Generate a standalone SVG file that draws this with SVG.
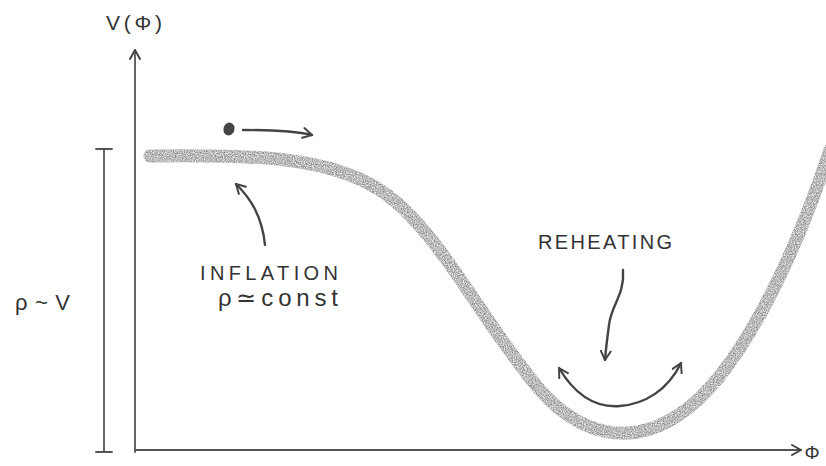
<svg xmlns="http://www.w3.org/2000/svg" width="826" height="466" viewBox="0 0 826 466">
<defs>
<filter id="pencil" x="-5%" y="-5%" width="110%" height="110%">
<feTurbulence type="fractalNoise" baseFrequency="0.9" numOctaves="2" seed="3" result="n"/>
<feColorMatrix in="n" type="matrix" values="0 0 0 0 0  0 0 0 0 0  0 0 0 0 0  0 0 0 -1.6 1.35" result="a"/>
<feComposite in="SourceGraphic" in2="a" operator="in"/>
</filter>
<marker id="head" viewBox="0 0 12 12" refX="10" refY="6" markerWidth="12" markerHeight="12" markerUnits="userSpaceOnUse" orient="auto">
<path d="M1,1 L10,6 L1,11" fill="none" stroke="#444" stroke-width="2" stroke-linecap="round" stroke-linejoin="round"/>
</marker>
<marker id="headS" viewBox="0 0 12 12" refX="10" refY="6" markerWidth="12" markerHeight="12" markerUnits="userSpaceOnUse" orient="auto-start-reverse">
<path d="M1,1 L10,6 L1,11" fill="none" stroke="#444" stroke-width="2" stroke-linecap="round" stroke-linejoin="round"/>
</marker>
</defs>
<style>
.ink{fill:none;stroke:#444;stroke-width:2.4;stroke-linecap:round}
.axis{fill:none;stroke:#555;stroke-width:1.8;stroke-linecap:round}
.lbl{font-family:"Liberation Sans",Arial,sans-serif;fill:#333}
.curve{fill:none;stroke:#848484;stroke-width:13;stroke-linecap:round}
</style>
<rect width="826" height="466" fill="#ffffff"/>
<g id="axes">
<path class="axis" d="M135,452 L135,50" marker-end="url(#head)"/>
<path class="axis" d="M135,450 L801,450" marker-end="url(#head)"/>
<text class="lbl" x="106" y="30" font-size="21" textLength="56" lengthAdjust="spacing">V(Φ)</text>
<text class="lbl" x="812" y="459" font-size="19" text-anchor="middle">Φ</text>
</g>
<g id="bracket">
<path class="axis" d="M96,149 L112,149 M104,149 L104,452 M96,452 L112,452"/>
<text class="lbl" x="15" y="310" font-size="22" textLength="55" lengthAdjust="spacing">ρ ~ V</text>
</g>
<g id="potential">
<path class="curve" filter="url(#pencil)" d="M150,156 C260,154 330,158 380,190 C440,230 480,320 540,390 C580,435 630,448 680,414 C735,378 790,270 830,150"/>
</g>
<g id="ball">
<ellipse cx="229" cy="129" rx="5.5" ry="6.5" fill="#444" transform="rotate(20 229 129)"/>
<path class="ink" d="M243,130 C270,130 295,131 312,135" marker-end="url(#head)"/>
</g>
<g id="inflation">
<path class="ink" d="M265,245 C262,215 250,198 236,184" marker-end="url(#head)"/>
<text class="lbl" x="200" y="280" font-size="20" textLength="138" lengthAdjust="spacing">INFLATION</text>
<text class="lbl" x="218" y="306" font-size="24" textLength="120" lengthAdjust="spacing">ρ≃const</text>
</g>
<g id="reheating">
<text class="lbl" x="538" y="249" font-size="20" textLength="134" lengthAdjust="spacing">REHEATING</text>
<path class="ink" d="M623,270 C625,295 611,305 609,325 C607,340 606,348 605,360" marker-end="url(#head)"/>
<path class="ink" d="M559,368 C575,395 595,408 620,406 C645,404 668,390 681,363" marker-start="url(#headS)" marker-end="url(#head)"/>
</g>
</svg>
